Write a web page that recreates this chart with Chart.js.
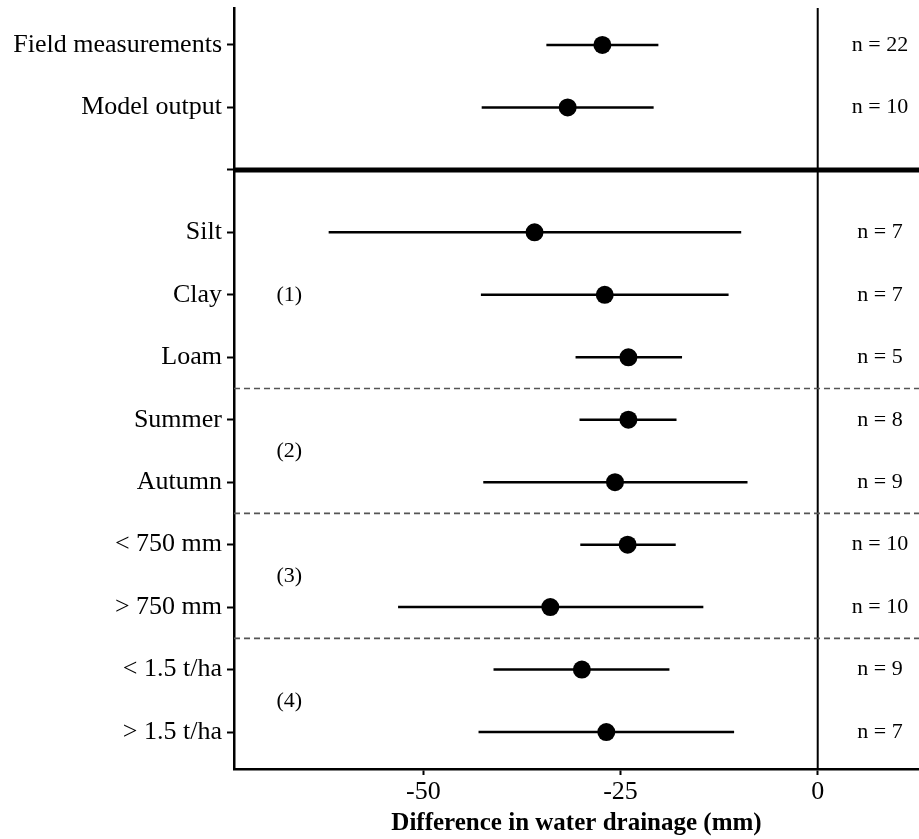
<!DOCTYPE html>
<html>
<head>
<meta charset="utf-8">
<script src="https://cdn.jsdelivr.net/npm/chart.js@4/dist/chart.umd.min.js"></script>
<style>
  html, body { margin: 0; padding: 0; background: #fff; }
  #wrap { width: 919px; height: 839px; }
</style>
</head>
<body>
<div id="wrap"><canvas id="forest" width="919" height="839"></canvas></div>
<script>
// Forest plot: mean difference in water drainage with intervals, by subgroup.
const SERIF = "'Liberation Serif', 'Times New Roman', serif";

// row labels down the y axis (slot 2 is the blank split between the two blocks)
const rowLabels = [
  'Field measurements', 'Model output', '',
  'Silt', 'Clay', 'Loam', 'Summer', 'Autumn',
  '< 750 mm', '> 750 mm', '< 1.5 t/ha', '> 1.5 t/ha',
];
const rowSlots = [0, 1, 3, 4, 5, 6, 7, 8, 9, 10, 11];
const means = [-27.3, -31.7, -35.9, -27.0, -24.0, -24.0, -25.7, -24.1, -33.9, -29.9, -26.8];
const lower = [-34.4, -42.6, -62.0, -42.7, -30.7, -30.2, -42.4, -30.1, -53.2, -41.1, -43.0];
const upper = [-20.2, -20.8, -9.7, -11.3, -17.2, -17.9, -8.9, -18.0, -14.5, -18.8, -10.6];
const sampleSizes = ['n = 22', 'n = 10', 'n = 7', 'n = 7', 'n = 5', 'n = 8', 'n = 9',
  'n = 10', 'n = 10', 'n = 9', 'n = 7'];
const groupLabels = ['(1)', '(2)', '(3)', '(4)'];
const groupSlots = [4, 6.5, 8.5, 10.5];
const splitSlot = 2;
const dashedSlots = [5.5, 7.5, 9.5];
const xTicks = [-50, -25, 0];

const N_LABEL_X = 7.9;     // x value where the sample sizes sit
const GROUP_LABEL_X = -67; // x value of the (1)..(4) markers

const ciSets = rowSlots.map((s, i) => ({
  type: 'line',
  data: [{ x: lower[i], y: s }, { x: upper[i], y: s }],
  borderColor: '#000',
  borderWidth: 2.5,
  pointRadius: 0,
  fill: false,
}));

const pointSet = {
  type: 'scatter',
  data: rowSlots.map((s, i) => ({ x: means[i], y: s })),
  backgroundColor: '#000',
  borderWidth: 0,
  pointRadius: 9,
  pointHoverRadius: 9,
};

// reference lines and the text columns, placed through the chart scales
const annotate = {
  id: 'annotate',
  beforeDatasetsDraw(chart) {
    const { ctx, chartArea: a, scales: { x, y } } = chart;
    ctx.save();
    ctx.strokeStyle = '#000';
    ctx.lineWidth = 2;
    const x0 = x.getPixelForValue(0);
    ctx.beginPath();
    ctx.moveTo(x0, a.top);
    ctx.lineTo(x0, a.bottom);
    ctx.stroke();

    ctx.lineWidth = 5;
    const ys = y.getPixelForValue(splitSlot);
    ctx.beginPath();
    ctx.moveTo(a.left, ys);
    ctx.lineTo(a.right, ys);
    ctx.stroke();

    ctx.strokeStyle = '#555';
    ctx.lineWidth = 1.6;
    ctx.setLineDash([6, 4]);
    dashedSlots.forEach((s) => {
      const yy = y.getPixelForValue(s);
      ctx.beginPath();
      ctx.moveTo(a.left, yy);
      ctx.lineTo(a.right, yy);
      ctx.stroke();
    });
    ctx.restore();
  },
  afterDatasetsDraw(chart) {
    const { ctx, scales: { x, y } } = chart;
    ctx.save();
    ctx.fillStyle = '#000';
    ctx.font = `22px ${SERIF}`;
    ctx.textAlign = 'center';
    ctx.textBaseline = 'middle';
    rowSlots.forEach((s, i) => {
      ctx.fillText(sampleSizes[i], x.getPixelForValue(N_LABEL_X), y.getPixelForValue(s));
    });
    groupLabels.forEach((t, i) => {
      ctx.fillText(t, x.getPixelForValue(GROUP_LABEL_X), y.getPixelForValue(groupSlots[i]));
    });
    ctx.restore();
  },
};

new Chart(document.getElementById('forest'), {
  data: { datasets: [...ciSets, pointSet] },
  options: {
    responsive: false,
    animation: false,
    devicePixelRatio: 1,
    layout: { autoPadding: false, padding: { top: 8, right: 0, bottom: 0, left: 0 } },
    plugins: { legend: { display: false }, tooltip: { enabled: false } },
    scales: {
      x: {
        type: 'linear',
        min: -74.0,
        max: 12.84,
        afterBuildTicks: (sc) => { sc.ticks = xTicks.map((v) => ({ value: v })); },
        afterFit: (sc) => { sc.height = 70; sc.paddingLeft = 0; sc.paddingRight = 0; },
        grid: { drawOnChartArea: false, tickLength: 6, tickColor: '#000', tickWidth: 2 },
        border: { display: true, color: '#000', width: 2.5 },
        ticks: { color: '#000', font: { family: SERIF, size: 26 }, padding: 2, maxRotation: 0 },
        title: {
          display: true,
          text: 'Difference in water drainage (mm)',
          color: '#000',
          font: { family: SERIF, size: 25, weight: 'bold' },
          padding: { top: 0, bottom: 0 },
        },
      },
      y: {
        type: 'linear',
        reverse: true,
        min: -0.592,
        max: 11.592,
        afterBuildTicks: (sc) => { sc.ticks = rowLabels.map((_, i) => ({ value: i })); },
        afterFit: (sc) => { sc.width = 234; sc.paddingTop = 0; sc.paddingBottom = 0; },
        grid: { drawOnChartArea: false, tickLength: 7, tickColor: '#000', tickWidth: 2 },
        border: { display: true, color: '#000', width: 2.5 },
        ticks: {
          color: '#000',
          autoSkip: false,
          padding: 5,
          font: { family: SERIF, size: 26 },
          callback: (v) => rowLabels[v] ?? '',
        },
      },
    },
  },
  plugins: [annotate],
});
</script>
</body>
</html>
